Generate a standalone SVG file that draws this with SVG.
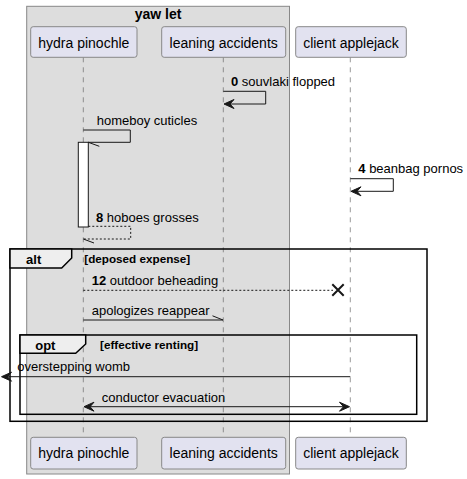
<svg xmlns="http://www.w3.org/2000/svg" width="467" height="479" viewBox="0 0 467 479">
<style>
text{font-family:"Liberation Sans",Arial,sans-serif;fill:#000}
.p{font-size:14px}
.m{font-size:13px}
.b{font-weight:bold}
.g{font-size:11.7px;font-weight:bold}
.pbox{fill:#E2E2F0;stroke:#888888;stroke-width:1}
.life{stroke:#555555;stroke-width:0.6;stroke-dasharray:5,5;fill:none}
.msg{stroke:#181818;stroke-width:1;fill:none}
.dash{stroke-dasharray:2,2}
.frame{fill:none;stroke:#000;stroke-width:1.5}
.tab{fill:#EEEEEE;stroke:#000;stroke-width:1.5}
.ah{fill:#181818;stroke:#181818;stroke-width:1}
</style>
<g id="box-yaw-let">
<rect x="26.7" y="6.3" width="262.8" height="467.7" fill="#DDDDDD" stroke="#888888" stroke-width="1"/>
<text x="158.1" y="19" class="b" font-size="14" text-anchor="middle">yaw let</text>
</g>
<g id="lifelines">
<line class="life" x1="83.3" y1="57.3" x2="83.3" y2="437.3"/>
<line class="life" x1="223.3" y1="57.3" x2="223.3" y2="437.3"/>
<line class="life" x1="350.3" y1="57.3" x2="350.3" y2="437.3"/>
</g>
<g id="hydra-pinochle">
<rect class="pbox" x="30.7" y="26.7" width="106.3" height="30.6" rx="2.5"/>
<text class="p" x="83.8" y="47.7" text-anchor="middle">hydra pinochle</text>
<rect class="pbox" x="30.7" y="437.3" width="106.3" height="31.7" rx="2.5"/>
<text class="p" x="83.8" y="458" text-anchor="middle">hydra pinochle</text>
</g>
<g id="leaning-accidents">
<rect class="pbox" x="161.7" y="26.7" width="124" height="30.6" rx="2.5"/>
<text class="p" x="223.7" y="47.7" text-anchor="middle">leaning accidents</text>
<rect class="pbox" x="161.7" y="437.3" width="124" height="31.7" rx="2.5"/>
<text class="p" x="223.7" y="458" text-anchor="middle">leaning accidents</text>
</g>
<g id="client-applejack">
<rect class="pbox" x="295.7" y="26.7" width="110.6" height="30.6" rx="2.5"/>
<text class="p" x="351" y="47.7" text-anchor="middle">client applejack</text>
<rect class="pbox" x="295.7" y="437.3" width="110.6" height="31.7" rx="2.5"/>
<text class="p" x="351" y="458" text-anchor="middle">client applejack</text>
</g>
<g id="activation">
<rect x="78.3" y="142.3" width="10" height="84.7" fill="#FFFFFF" stroke="#181818" stroke-width="1"/>
</g>
<g id="frame-alt">
<rect class="frame" x="10" y="249" width="417" height="172.3"/>
<path class="tab" d="M10,249 L71.7,249 L71.7,258 L61.7,268 L10,268 Z"/>
<text class="m b" x="33.7" y="263.7" text-anchor="middle">alt</text>
<text class="g" x="84.3" y="263">[deposed expense]</text>
</g>
<g id="frame-opt">
<rect class="frame" x="20" y="335" width="396.7" height="79.3"/>
<path class="tab" d="M20,335 L85.7,335 L85.7,344 L75.7,353.3 L20,353.3 Z"/>
<text class="m b" x="45.3" y="349.5" text-anchor="middle">opt</text>
<text class="g" x="100" y="348.8">[effective renting]</text>
</g>
<g id="connectors">
<polyline class="msg" points="223.3,91.3 265.7,91.3 265.7,104 226,104"/>
<polygon class="ah" points="224,104 234,99.5 230,104 234,108.5"/>
<text class="m" x="231" y="86"><tspan class="b">0</tspan> souvlaki flopped</text>

<polyline class="msg" points="83.3,130 130.3,130 130.3,142.3 88.3,142.3"/>
<line class="msg" x1="88.3" y1="142.3" x2="99.3" y2="146.3"/>
<text class="m" x="96.7" y="124.5">homeboy cuticles</text>

<polyline class="msg" points="350.3,178.7 393.3,178.7 393.3,191.3 353,191.3"/>
<polygon class="ah" points="351,191.3 361,186.8 357,191.3 361,195.8"/>
<text class="m" x="358.3" y="172.8"><tspan class="b">4</tspan> beanbag pornos</text>

<polyline class="msg dash" points="88.3,226.3 130.7,226.3 130.7,239 83.3,239"/>
<line class="msg" x1="83.3" y1="239" x2="94" y2="243"/>
<text class="m" x="96" y="222"><tspan class="b">8</tspan> hoboes grosses</text>

<line class="msg dash" x1="83.3" y1="290.3" x2="333" y2="290.3"/>
<path d="M332.3,284.3 L343.7,295.7 M332.3,295.7 L343.7,284.3" stroke="#181818" stroke-width="2" fill="none"/>
<text class="m" x="91.7" y="284.5"><tspan class="b">12</tspan> outdoor beheading</text>

<line class="msg" x1="83.3" y1="320" x2="223" y2="320"/>
<line class="msg" x1="223" y1="320" x2="212.5" y2="315.8"/>
<text class="m" x="91.7" y="315.3">apologizes reappear</text>

<line class="msg" x1="350.3" y1="376.7" x2="4" y2="376.7"/>
<polygon class="ah" points="1.5,376.7 11.5,372.2 7.5,376.7 11.5,381.2"/>
<text class="m" x="17.3" y="371">overstepping womb</text>

<line class="msg" x1="86" y1="406.7" x2="348" y2="406.7"/>
<polygon class="ah" points="84,406.7 94,402.2 90,406.7 94,411.2"/>
<polygon class="ah" points="349.5,406.7 339.5,402.2 343.5,406.7 339.5,411.2"/>
<text class="m" x="101.7" y="401.5">conductor evacuation</text>
</g>
</svg>
